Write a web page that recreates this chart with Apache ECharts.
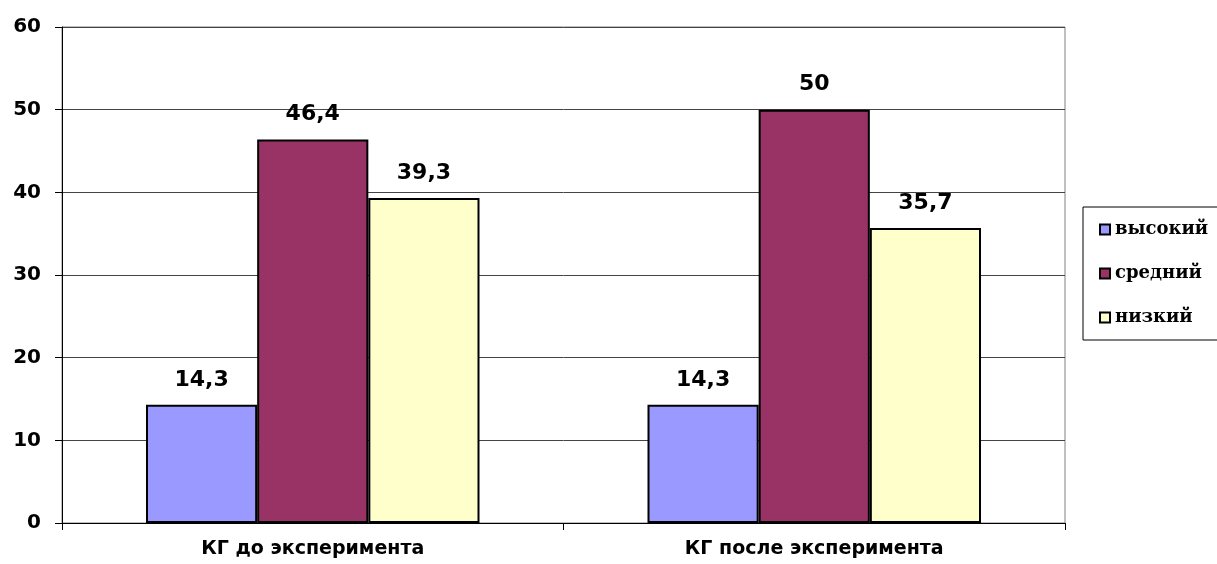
<!DOCTYPE html>
<html>
<head>
<meta charset="utf-8">
<script src="https://cdn.jsdelivr.net/npm/echarts@6/dist/echarts.min.js"></script>
<style>
	html,body{margin:0;padding:0;background:#fff;}
	#main{width:1217px;height:564px;}
</style>
</head>
<body>
<div id="main"></div>
<script>
	var categories = ['КГ до эксперимента', 'КГ после эксперимента'];
	var seriesNames = ['высокий', 'средний', 'низкий'];
	var highValues = [14.3, 14.3];
	var midValues = [46.4, 50];
	var lowValues = [39.3, 35.7];
	var colors = ['#9999FF', '#993366', '#FFFFCC'];

	var myChart = echarts.init(document.getElementById('main'));

	function makeSeries(name, data, color){
		return {
			name: name,
			type: 'bar',
			barGap: '0%',
			barCategoryGap: '33.5%',
			itemStyle: {
				color: color,
				borderColor: '#000',
				borderWidth: 2
			},
			label: {
				show: true,
				position: 'top',
				distance: 14,
				fontFamily: 'DejaVu Sans',
				fontWeight: 'bold',
				fontSize: 22,
				color: '#000',
				formatter: function(p){
					return String(p.value).replace('.', ',');
				}
			},
			data: data
		};
	}

	myChart.setOption({
		animation: false,
		grid: {
			left: 62,
			right: 152,
			top: 27,
			bottom: 41,
			show: true,
			borderColor: '#808080',
			borderWidth: 1
		},
		legend: {
			orient: 'vertical',
			left: 1083,
			top: 207,
			padding: [13, 40, 13, 16],
			itemGap: 25,
			itemWidth: 10,
			itemHeight: 10,
			borderColor: '#000',
			borderWidth: 1,
			icon: 'rect',
			itemStyle: {
				borderColor: '#000',
				borderWidth: 2
			},
			textStyle: {
				fontFamily: 'DejaVu Serif',
				fontWeight: 'bold',
				fontSize: 18,
				lineHeight: 19,
				color: '#000'
			},
			data: seriesNames
		},
		xAxis: {
			type: 'category',
			data: categories,
			axisLine: {
				lineStyle: { color: '#000', width: 1 }
			},
			axisTick: {
				show: true,
				length: 7,
				lineStyle: { color: '#000' }
			},
			axisLabel: {
				margin: 17,
				fontFamily: 'DejaVu Sans',
				fontWeight: 'bold',
				fontSize: 19,
				color: '#000'
			}
		},
		yAxis: {
			type: 'value',
			min: 0,
			max: 60,
			interval: 10,
			axisLine: {
				show: true,
				lineStyle: { color: '#000', width: 1 }
			},
			axisTick: {
				show: true,
				length: 7,
				lineStyle: { color: '#000' }
			},
			splitLine: {
				show: true,
				lineStyle: { color: '#444', width: 1 }
			},
			axisLabel: {
				margin: 21,
				fontFamily: 'DejaVu Sans',
				fontWeight: 'bold',
				fontSize: 20,
				color: '#000'
			}
		},
		series: [
			makeSeries(seriesNames[0], highValues, colors[0]),
			makeSeries(seriesNames[1], midValues, colors[1]),
			makeSeries(seriesNames[2], lowValues, colors[2])
		]
	});
</script>
</body>
</html>
